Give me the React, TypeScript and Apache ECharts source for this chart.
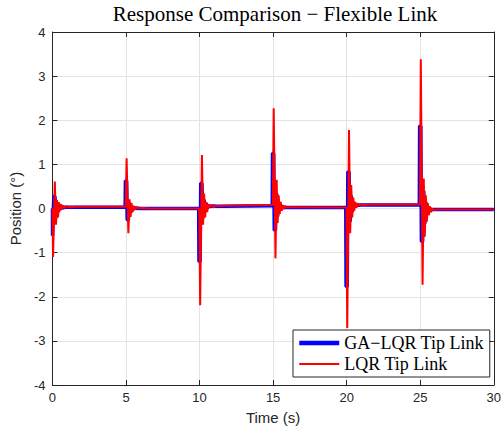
import React, { useEffect, useRef } from "react";
import * as echarts from "echarts";

// GA-LQR: time samples (s)
const gaTime = [
  0, 0.005, 0.05, 0.09, 0.17, 0.24, 0.31, 0.38, 0.45, 0.52, 0.59, 0.66, 0.74, 0.83, 0.93, 1.1, 1.6,
  4.94, 4.96, 5.04, 5.08, 5.16, 5.24, 5.31, 5.38, 5.45, 5.52, 5.59, 5.66, 5.74, 5.83, 5.93, 6.1, 6.6,
  9.94, 9.96, 10.04, 10.08, 10.16, 10.24, 10.31, 10.38, 10.45, 10.52, 10.59, 10.66, 10.74, 10.83, 10.93, 11.1, 11.6,
  14.94, 14.96, 15.04, 15.08, 15.16, 15.24, 15.31, 15.38, 15.45, 15.52, 15.59, 15.66, 15.74, 15.83, 15.93, 16.1, 16.6,
  19.94, 19.96, 20.04, 20.08, 20.16, 20.24, 20.31, 20.38, 20.45, 20.52, 20.59, 20.66, 20.74, 20.83, 20.93, 21.1, 21.6,
  24.94, 24.96, 25.04, 25.08, 25.16, 25.24, 25.31, 25.38, 25.45, 25.52, 25.59, 25.66, 25.74, 25.83, 25.93, 26.1, 26.6,
  30,
];

// GA-LQR tip link position (deg)
const gaLqrTip = [
  0, -0.62, -0.62, 0.27, 0.27, -0.22, 0.14, -0.08, 0.08, -0.02, 0.05, 0.0, 0.03, 0.02, 0.03, 0.03, 0.03,
  0.03, 0.63, 0.63, -0.26, -0.26, 0.14, -0.1, 0.06, -0.04, 0.03, -0.01, 0.02, 0.0, 0.01, 0.0, 0.0, 0.0,
  0.0, -1.2, -1.2, 0.57, 0.57, -0.22, 0.2, -0.08, 0.12, 0.0, 0.08, 0.03, 0.06, 0.05, 0.06, 0.05, 0.05,
  0.06, 1.25, 1.25, -0.49, -0.49, 0.35, -0.18, 0.15, -0.05, 0.08, -0.01, 0.05, 0.01, 0.03, 0.02, 0.02, 0.02,
  0.02, -1.77, -1.77, 0.83, 0.83, -0.3, 0.3, -0.08, 0.15, 0.02, 0.1, 0.05, 0.09, 0.07, 0.08, 0.08, 0.08,
  0.08, 1.87, 1.87, -0.75, -0.75, 0.4, -0.35, 0.15, -0.15, 0.05, -0.06, 0.0, -0.03, -0.02, -0.02, -0.02, -0.02,
  -0.02,
];

// LQR: time samples (s)
const lqrTime = [
  0, 0.04, 0.16, 0.24, 0.31, 0.38, 0.45, 0.52, 0.59, 0.66, 0.74, 0.83, 0.93, 1.1, 1.6,
  4.98, 5.04, 5.16, 5.24, 5.31, 5.38, 5.45, 5.52, 5.59, 5.66, 5.74, 5.83, 5.93, 6.1, 6.6,
  9.98, 10.04, 10.16, 10.24, 10.31, 10.38, 10.45, 10.52, 10.59, 10.66, 10.74, 10.83, 10.93, 11.1, 11.6,
  14.98, 15.04, 15.16, 15.24, 15.31, 15.38, 15.45, 15.52, 15.59, 15.66, 15.74, 15.83, 15.93, 16.1, 16.6,
  19.98, 20.04, 20.16, 20.24, 20.31, 20.38, 20.45, 20.52, 20.59, 20.66, 20.74, 20.83, 20.93, 21.1, 21.6,
  24.98, 25.04, 25.16, 25.24, 25.31, 25.38, 25.45, 25.52, 25.59, 25.66, 25.74, 25.83, 25.93, 26.1, 26.6,
  30,
];

// LQR tip link position (deg)
const lqrTip = [
  0, -1.1, 0.61, -0.37, 0.19, -0.2, 0.14, -0.06, 0.1, -0.01, 0.07, 0.01, 0.05, 0.03, 0.04,
  0.04, 1.14, -0.56, 0.21, -0.19, 0.12, -0.08, 0.06, -0.03, 0.04, 0.0, 0.02, 0.0, 0.01, 0.0,
  0.0, -2.19, 1.21, -0.37, 0.34, -0.2, 0.15, -0.08, 0.1, 0.02, 0.08, 0.04, 0.06, 0.05, 0.06,
  0.08, 2.27, -1.13, 0.65, -0.33, 0.3, -0.12, 0.15, -0.05, 0.08, 0.0, 0.05, 0.02, 0.03, 0.03,
  0.02, -2.71, 1.78, -0.56, 0.53, -0.2, 0.25, -0.05, 0.15, 0.02, 0.12, 0.06, 0.09, 0.08, 0.09,
  0.09, 3.38, -1.73, 0.68, -0.64, 0.3, -0.3, 0.12, -0.15, 0.05, -0.08, 0.0, -0.04, -0.02, -0.02,
  -0.02,
];

const seriesNames = ["GA\u2212LQR Tip Link", "LQR Tip Link"];
const titleText = "Response Comparison \u2212 Flexible Link";
const xAxisName = "Time (s)";
const yAxisName = "Position (\u00b0)";

export default function App() {
  const ref = useRef<HTMLDivElement>(null);

  useEffect(() => {
    if (!ref.current) return;
    const chart = echarts.init(ref.current, null, { renderer: "svg" });
    const axisColor = "#262626";
    const gridColor = "#e3e3e3";
    const sans = "'Liberation Sans', Arial, Helvetica, sans-serif";
    const serif = "'Liberation Serif', 'Times New Roman', serif";

    const axisLine = { show: true, onZero: false, lineStyle: { color: axisColor, width: 1 } };
    const axisTick = { show: true, inside: true, length: 5, lineStyle: { color: axisColor, width: 1 } };

    chart.setOption({
      animation: false,
      backgroundColor: "#ffffff",
      title: {
        text: titleText,
        left: 275,
        top: 3,
        padding: 0,
        textAlign: "center",
        textStyle: { fontFamily: serif, fontSize: 21, fontWeight: "normal", color: "#000000" },
      },
      grid: { left: 51, right: 5, top: 32, bottom: 48 },
      legend: {
        left: 293,
        top: 330,
        orient: "vertical",
        padding: [4, 6, 4, 4],
        itemGap: 3,
        itemWidth: 40,
        itemHeight: 16,
        backgroundColor: "#ffffff",
        borderColor: axisColor,
        borderWidth: 1,
        borderRadius: 0,
        itemStyle: { opacity: 0 },
        textStyle: { fontFamily: serif, fontSize: 18, color: "#000000" },
        data: [
          { name: seriesNames[0], itemStyle: { opacity: 0 }, lineStyle: { width: 4.5 } },
          { name: seriesNames[1], itemStyle: { opacity: 0 }, lineStyle: { width: 2 } },
        ],
      },
      xAxis: [
        {
          type: "value",
          min: 0,
          max: 30,
          interval: 5,
          position: "bottom",
          name: xAxisName,
          nameLocation: "middle",
          nameGap: 25,
          nameTextStyle: { fontFamily: sans, fontSize: 15, color: axisColor },
          axisLine,
          axisTick,
          axisLabel: { color: axisColor, fontFamily: sans, fontSize: 13, margin: 6 },
          splitLine: { show: true, lineStyle: { color: gridColor, width: 1 } },
        },
        {
          type: "value",
          min: 0,
          max: 30,
          interval: 5,
          position: "top",
          axisLine,
          axisTick,
          axisLabel: { show: false },
          splitLine: { show: false },
        },
      ],
      yAxis: [
        {
          type: "value",
          min: -4,
          max: 4,
          interval: 1,
          position: "left",
          name: yAxisName,
          nameLocation: "middle",
          nameGap: 26,
          nameTextStyle: { fontFamily: sans, fontSize: 15, color: axisColor },
          axisLine,
          axisTick,
          axisLabel: { color: axisColor, fontFamily: sans, fontSize: 13, margin: 7 },
          splitLine: { show: true, lineStyle: { color: gridColor, width: 1 } },
        },
        {
          type: "value",
          min: -4,
          max: 4,
          interval: 1,
          position: "right",
          axisLine,
          axisTick,
          axisLabel: { show: false },
          splitLine: { show: false },
        },
      ],
      series: [
        {
          name: seriesNames[0],
          type: "line",
          xAxisIndex: 0,
          yAxisIndex: 0,
          data: gaTime.map((t, i) => [t, gaLqrTip[i]]),
          symbol: "none",
          showSymbol: false,
          lineStyle: { color: "#0000ff", width: 3.5, join: "bevel" },
          itemStyle: { color: "#0000ff" },
          z: 2,
        },
        {
          name: seriesNames[1],
          type: "line",
          xAxisIndex: 0,
          yAxisIndex: 0,
          data: lqrTime.map((t, i) => [t, lqrTip[i]]),
          symbol: "none",
          showSymbol: false,
          lineStyle: { color: "#ff0000", width: 2, join: "bevel" },
          itemStyle: { color: "#ff0000" },
          z: 3,
        },
      ],
    });

    return () => {
      chart.dispose();
    };
  }, []);

  return (
    <div
      ref={ref}
      style={{ position: "absolute", left: 0, top: 0, width: 504, height: 433, background: "#fff" }}
    />
  );
}
